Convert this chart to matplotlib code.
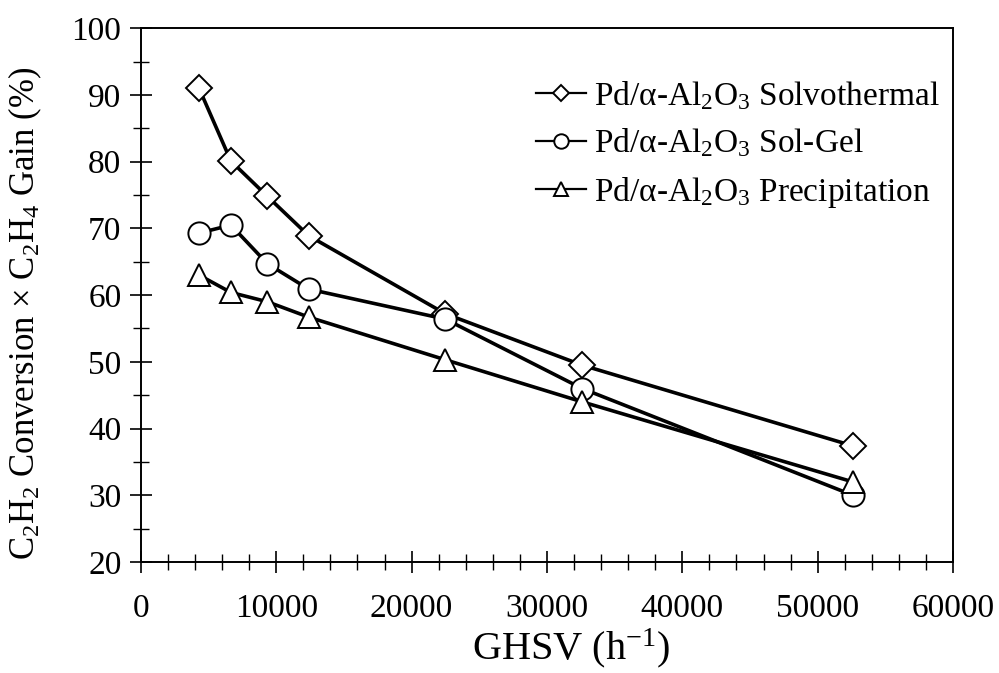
import matplotlib
matplotlib.use("Agg")
import matplotlib.pyplot as plt
from matplotlib.ticker import MultipleLocator

plt.rcParams["font.family"] = ["Liberation Serif", "DejaVu Serif"]
plt.rcParams["mathtext.fontset"] = "custom"
plt.rcParams["mathtext.rm"] = "Liberation Serif"
plt.rcParams["mathtext.it"] = "Liberation Serif:italic"

# GHSV (h^-1)
ghsv = [4300, 6650, 9350, 12400, 22500, 32600, 52600]

solvothermal = [91.0, 80.1, 74.8, 68.9, 57.2, 49.5, 37.4]
sol_gel = [69.3, 70.5, 64.7, 60.9, 56.4, 46.0, 30.0]
precipitation = [63.0, 60.4, 59.0, 56.7, 50.3, 44.0, 32.0]

labels = [
    r"Pd/α-Al$_\mathrm{2}$O$_\mathrm{3}$ Solvothermal",
    r"Pd/α-Al$_\mathrm{2}$O$_\mathrm{3}$ Sol-Gel",
    r"Pd/α-Al$_\mathrm{2}$O$_\mathrm{3}$ Precipitation",
]

fig = plt.figure(figsize=(9.99, 6.73), dpi=100)
ax = fig.add_axes([0.141, 0.165, 0.813, 0.793])

style = dict(color="black", lw=2.6, mfc="white", mec="black", mew=1.4)
ax.plot(ghsv, solvothermal, marker="D", ms=13, label=labels[0], **style)
ax.plot(ghsv, sol_gel, marker="o", ms=16, label=labels[1], **style)
ax.plot(ghsv, precipitation, marker="^", ms=16, label=labels[2], **style)

ax.set_xlim(0, 60000)
ax.set_ylim(20, 100)
ax.xaxis.set_major_locator(MultipleLocator(10000))
ax.xaxis.set_minor_locator(MultipleLocator(2000))
ax.yaxis.set_major_locator(MultipleLocator(10))
ax.yaxis.set_minor_locator(MultipleLocator(5))
ax.tick_params(which="major", direction="inout", length=16, width=1.2,
               labelsize=24)
ax.tick_params(which="minor", direction="inout", length=11, width=1.0)
ax.tick_params(axis="x", which="major", pad=15)
ax.tick_params(axis="y", which="major", pad=6)
for sp in ax.spines.values():
    sp.set_linewidth(1.4)

ax.set_xlabel(r"GHSV (h$^\mathrm{-1}$)", fontsize=29, va="baseline")
ax.xaxis.set_label_coords(0.53, -0.183)
ax.set_ylabel(r"C$_\mathrm{2}$H$_\mathrm{2}$ Conversion × "
              r"C$_\mathrm{2}$H$_\mathrm{4}$ Gain (%)", fontsize=25)
ax.yaxis.set_label_coords(-0.119, 0.465)

leg = ax.legend(loc="upper right", bbox_to_anchor=(1.0, 0.93), frameon=False,
                fontsize=24, markerscale=0.65, handlelength=1.5,
                handletextpad=0.25, labelspacing=0.45, borderaxespad=0.0)
for h in leg.legend_handles:
    h.set_linewidth(1.6)

fig.savefig("out.png", dpi=100)
